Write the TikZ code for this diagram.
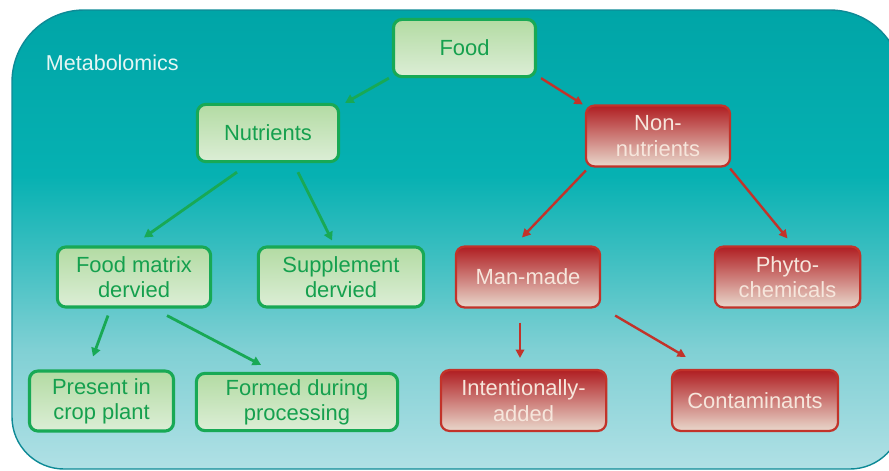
\documentclass[tikz,border=0pt]{standalone}
\usepackage{fontspec}
\setmainfont{Liberation Sans}
\usetikzlibrary{positioning,calc,arrows.meta}

\definecolor{bgtop}{HTML}{00A5A7}
\definecolor{bga}{HTML}{06B1B2}
\definecolor{bgb}{HTML}{3EBFC1}
\definecolor{bgc}{HTML}{80D0D4}
\definecolor{bgbot}{HTML}{B0E0E5}
\definecolor{bgline}{HTML}{0E8A96}
\definecolor{grtop}{HTML}{B3DBA3}
\definecolor{grbot}{HTML}{DCEED6}
\definecolor{grline}{HTML}{18A955}
\definecolor{grtext}{HTML}{15A04E}
\definecolor{rdtop}{HTML}{B01E22}
\definecolor{rdbot}{HTML}{E9D8CC}
\definecolor{rdline}{HTML}{C2332A}
\definecolor{rdtext}{HTML}{F6E6DC}
\definecolor{mtext}{HTML}{E6F6F4}

\pgfdeclareverticalshading{metab}{100bp}{color(0bp)=(bgbot); color(25bp)=(bgbot);
  color(38bp)=(bgc); color(48bp)=(bgb); color(57bp)=(bga); color(75bp)=(bgtop);
  color(100bp)=(bgtop)}

\begin{document}
\begin{tikzpicture}[x=0.025cm,y=-0.025cm]
\useasboundingbox (0,0) rectangle (889,470);
\begin{scope}
    \clip (0,0) rectangle (889,470);
    \shadedraw[shading=metab, draw=bgline, line width=1pt]
        (12,240) [rounded corners=1.8cm] -- (12,10) -- (902,10) -- (902,240)
        [rounded corners=1.3cm] -- (902,469) -- (12,469) -- cycle;
\end{scope}

\node[anchor=west, text=mtext, font=\fontsize{15.3}{18}\selectfont] (M) at (41,63) {Metabolomics};

\begin{scope}[every node/.style={draw=grline, line width=2.2pt, rounded corners=6pt,
              top color=grtop, bottom color=grbot, text=grtext, align=center,
              minimum height=1.5cm, font=\fontsize{15.6}{18}\selectfont}]
    \node[minimum width=3.55cm, minimum height=1.43cm] (F) at (464.5,48) {Food};
    \node[minimum width=3.53cm, minimum height=1.43cm] (N) at (268,133) {Nutrients};
    \node[minimum width=3.83cm] (FM) at (134,277) {Food matrix\\dervied};
    \node[minimum width=4.13cm] (S) at (341,277) {Supplement\\dervied};
    \node[minimum width=3.6cm] (PR) at (101.5,401) {Present in\\crop plant};
    \node[minimum width=5.03cm, minimum height=1.43cm] (FD) at (297,402) {Formed during\\processing};
\end{scope}

\begin{scope}[every node/.style={draw=rdline, line width=1.6pt, rounded corners=6pt,
              top color=rdtop, bottom color=rdbot, text=rdtext, align=center,
              minimum height=1.52cm, font=\fontsize{15.6}{18}\selectfont}]
    \node[minimum width=3.6cm] (NN) at (658,136) {Non-\\nutrients};
    \node[minimum width=3.6cm] (MM) at (528,277) {Man-made};
    \node[minimum width=3.63cm] (PC) at (787.5,277) {Phyto-\\chemicals};
    \node[minimum width=4.13cm] (IA) at (523.5,400.5) {Intentionally-\\added};
    \node[minimum width=4.15cm] (C) at (755,400.5) {Contaminants};
\end{scope}

\begin{scope}[>={Triangle[length=6pt,width=6.5pt]},
              every edge/.style={draw=grline, line width=2pt}]
    \path [->] ($(F.south west)+(-3,0)$) edge ($(N.north east)+(5,0)$);
    \path [->] ($(N.south)+(-31,9)$) edge ($(FM.north)+(10,-8)$);
    \path [->] ($(N.south)+(30,9)$) edge ($(S.north)+(-9,-5)$);
    \path [->] ($(FM.south)+(-26,7)$) edge ($(PR.north)+(-8.5,-13)$);
    \path [->] ($(FM.south)+(33,7)$) edge ($(FD.north)+(-36,-7)$);
\end{scope}

\begin{scope}[>={Triangle[length=6pt,width=6pt]},
              every edge/.style={draw=rdline, line width=1.7pt}]
    \path [->] ($(F.south east)+(4,0)$) edge ($(NN.north west)+(-2,0)$);
    \path [->] ($(NN.south west)+(1,3)$) edge ($(MM.north)+(-6,-8)$);
    \path [->] ($(NN.south east)+(-1,1)$) edge ($(PC.north)+(0,-7)$);
    \path [->] ($(MM.south)+(-8,14)$) edge ($(IA.north)+(-3.5,-11)$);
    \path [->] ($(MM.south east)+(14,7)$) edge ($(C.north west)+(15,-12)$);
\end{scope}
\end{tikzpicture}
\end{document}
